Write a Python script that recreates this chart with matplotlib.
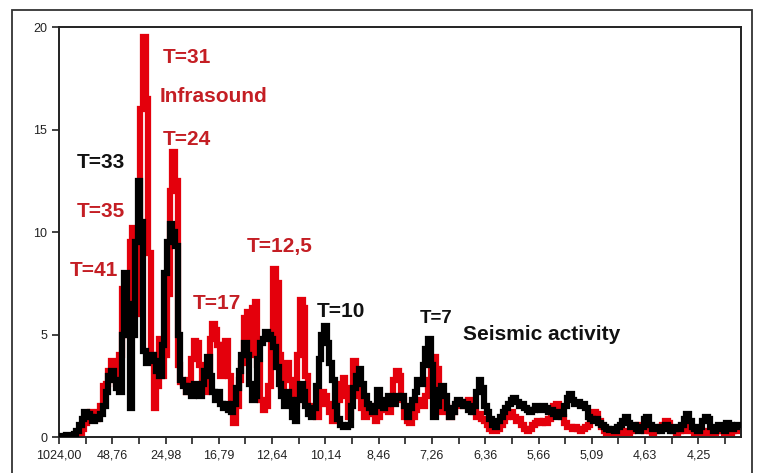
"""
Spectra of infrasound and seismic activity against period T.
"""

import numpy as np
import matplotlib.pyplot as plt
from matplotlib.patches import Rectangle


# ---------------------------------------------------------------------------
# Data (spectral amplitude per harmonic, index i -> period 1024/(i+1))
# ---------------------------------------------------------------------------

seismic = [
    0.0, 0.05, 0.05, 0.1, 0.1, 0.1, 0.15, 0.3, 0.6, 0.9,
    1.2, 1.1, 1.0, 0.8, 1.0, 0.9, 1.1, 1.5, 2.2, 3.0,
    3.2, 2.8, 2.4, 2.2, 5.0, 8.0, 6.5, 1.4, 5.0, 9.5,
    12.5, 10.5, 4.2, 3.6, 3.9, 4.0, 3.7, 3.2, 3.0, 4.5,
    8.0, 9.5, 10.4, 10.0, 9.3, 5.0, 2.8, 2.5, 2.2, 2.5,
    2.0, 2.6, 2.4, 2.0, 2.6, 3.2, 3.9, 3.0, 2.2, 1.8,
    2.2, 1.6, 1.4, 1.6, 1.3, 1.2, 1.6, 2.4, 3.2, 4.0,
    4.6, 4.0, 2.6, 1.8, 2.0, 3.8, 4.6, 4.8, 5.1, 5.0,
    4.8, 4.4, 3.4, 2.6, 2.0, 1.5, 2.2, 1.8, 1.0, 0.8,
    1.8, 2.6, 2.2, 1.5, 1.1, 1.0, 1.4, 2.5, 3.8, 5.0,
    5.4, 4.6, 3.6, 2.8, 1.5, 0.9, 0.6, 0.5, 0.5, 0.6,
    1.5, 2.4, 3.0, 3.3, 2.6, 2.0, 1.6, 1.4, 1.2, 1.5,
    2.3, 1.8, 1.4, 1.6, 2.0, 1.8, 1.6, 2.0, 1.9, 2.0,
    1.5, 1.0, 1.4, 1.8, 2.2, 2.8, 2.6, 3.5, 4.3, 4.8,
    3.5, 1.0, 1.5, 2.3, 2.5, 2.0, 1.4, 1.0, 1.2, 1.6,
    1.8, 1.7, 1.5, 1.6, 1.3, 1.2, 1.5, 2.2, 2.8, 2.4,
    1.5, 1.2, 0.9, 0.6, 0.5, 0.8, 1.0, 1.2, 1.4, 1.6,
    1.8, 1.9, 1.7, 1.5, 1.6, 1.4, 1.3, 1.2, 1.3, 1.5,
    1.4, 1.3, 1.5, 1.4, 1.2, 1.3, 1.1, 1.0, 1.2, 1.1,
    1.5, 1.9, 2.1, 1.8, 1.6, 1.7, 1.5, 1.6, 1.4, 1.0,
    0.9, 0.8, 0.9, 0.7, 0.6, 0.5, 0.4, 0.35, 0.4, 0.3,
    0.5, 0.6, 0.8, 1.0, 0.7, 0.5, 0.6, 0.4, 0.3, 0.5,
    0.9, 1.0, 0.6, 0.4, 0.5, 0.5, 0.3, 0.4, 0.6, 0.5,
    0.3, 0.4, 0.5, 0.4, 0.6, 0.9, 1.1, 0.8, 0.5, 0.4,
    0.3, 0.5, 0.8, 1.0, 0.9, 0.5, 0.3, 0.4, 0.6, 0.5,
    0.3, 0.7, 0.6, 0.4, 0.5, 0.6,
]

infrasound = [
    0.0, 0.0, 0.0, 0.0, 0.0, 0.0, 0.0, 0.1, 0.2, 0.4,
    0.7, 1.1, 1.2, 1.0, 0.9, 1.2, 1.5, 2.5, 2.6, 3.2,
    3.7, 3.0, 2.6, 4.0, 7.2, 5.0, 6.5, 9.5, 10.2, 6.0,
    8.5, 16.0, 19.5, 16.5, 9.0, 4.0, 1.4, 2.5, 4.8, 3.0,
    4.0, 7.0, 12.0, 13.9, 12.5, 3.5, 2.7, 2.6, 2.2, 2.8,
    3.8, 4.7, 4.6, 3.5, 2.5, 2.2, 3.0, 4.8, 5.5, 5.2,
    4.5, 3.0, 4.5, 4.7, 3.0, 1.5, 0.7, 1.5, 2.8, 3.6,
    5.8, 6.1, 4.0, 6.3, 6.6, 3.5, 1.8, 1.3, 1.5, 2.5,
    4.5, 8.2, 7.5, 4.0, 2.5, 3.2, 3.6, 2.8, 1.8, 1.6,
    4.0, 6.7, 6.3, 3.0, 1.5, 1.5, 1.2, 1.0, 1.6, 2.2,
    2.0, 1.6, 1.2, 0.8, 1.0, 1.8, 2.6, 2.9, 2.0, 1.0,
    2.4, 3.7, 3.2, 2.0, 1.4, 1.0, 1.2, 1.5, 1.1, 0.8,
    1.0, 1.3, 1.6, 1.4, 1.2, 1.8, 2.8, 3.2, 3.0, 1.8,
    1.0, 0.8, 0.7, 1.0, 1.3, 1.6, 1.8, 1.5, 2.0, 2.8,
    3.5, 3.9, 3.3, 1.8, 1.2, 1.5, 1.3, 1.0, 1.2, 1.5,
    1.7, 1.6, 1.5, 1.7, 1.8, 1.6, 1.2, 1.0, 1.1, 0.9,
    0.8, 0.6, 0.4, 0.3, 0.3, 0.4, 0.6, 0.8, 1.0, 1.1,
    1.2, 1.0, 0.8, 0.9, 0.6, 0.4, 0.3, 0.4, 0.6, 0.7,
    0.8, 0.7, 0.8, 0.7, 0.9, 1.2, 1.5, 1.6, 1.3, 1.0,
    0.7, 0.5, 0.5, 0.4, 0.5, 0.4, 0.3, 0.4, 0.5, 0.6,
    0.9, 1.2, 1.1, 0.8, 0.5, 0.3, 0.2, 0.2, 0.3, 0.2,
    0.2, 0.3, 0.2, 0.3, 0.2, 0.3, 0.4, 0.5, 0.6, 0.4,
    0.3, 0.5, 0.3, 0.2, 0.3, 0.4, 0.5, 0.6, 0.8, 0.7,
    0.4, 0.3, 0.2, 0.3, 0.4, 0.3, 0.4, 0.5, 0.3, 0.2,
    0.2, 0.3, 0.2, 0.2, 0.3, 0.2, 0.2, 0.3, 0.4, 0.3,
    0.2, 0.3, 0.2, 0.3, 0.4, 0.3,
]

period_labels = [
    "1024,00", "48,76", "24,98", "16,79", "12,64", "10,14", "8,46",
    "7,26", "6,36", "5,66", "5,09", "4,63", "4,25",
]
y_ticks = [0, 5, 10, 15, 20]

# peak annotations: (text, index, value, colour)
peak_notes = [
    ("T=31", 39.0, 18.5, "red"),
    ("Infrasound", 37.9, 16.6, "red"),
    ("T=24", 39.0, 14.5, "red"),
    ("T=33", 6.7, 13.4, "black"),
    ("T=35", 6.7, 11.0, "red"),
    ("T=41", 4.1, 8.1, "red"),
    ("T=12,5", 70.5, 9.3, "red"),
    ("T=17", 50.2, 6.5, "red"),
    ("T=10", 96.7, 6.1, "black"),
    ("T=7", 135.4, 5.8, "black"),
    ("Seismic activity", 151.5, 5.0, "black"),
]

LINE_RED = "#e4000c"
TEXT_RED = "#c41e24"


# ---------------------------------------------------------------------------
# Figure
# ---------------------------------------------------------------------------

plt.rcParams.update({
    "font.family": ["Liberation Sans", "DejaVu Sans"],
    "font.size": 9,
})

fig = plt.figure(figsize=(7.59, 4.73), dpi=100)
ax = fig.add_axes([0.0777, 0.0761, 0.8986, 0.8668])

idx = np.arange(len(seismic))
ax.plot(idx, infrasound, color=LINE_RED, linewidth=4.5,
        drawstyle="steps-mid", solid_joinstyle="miter", zorder=2)
ax.plot(idx, seismic, color="black", linewidth=4.5,
        drawstyle="steps-mid", solid_joinstyle="miter", zorder=3)

for text, xi, yv, col in peak_notes:
    ax.text(xi, yv, text, color=TEXT_RED if col == "red" else "#111111",
            fontsize=15 if text != "T=7" else 13.5, fontweight="bold",
            ha="left", va="center", zorder=5)

ax.set_xlim(0, 256)
ax.set_ylim(0, 20)
ax.set_xticks(np.arange(0, len(period_labels) * 20, 20))
ax.set_xticklabels(period_labels)
ax.set_xticks(np.arange(10, 256, 20), minor=True)
ax.set_yticks(y_ticks)
ax.tick_params(axis="both", which="both", direction="out", length=5,
               width=1.2, colors="#222222", labelsize=9)
ax.tick_params(axis="x", pad=4)

for sp in ax.spines.values():
    sp.set_linewidth(1.4)
    sp.set_color("#222222")

# outer frame of the original picture
fig.add_artist(Rectangle((0.0158, -0.2), 0.975, 1.1789,
                         transform=fig.transFigure, fill=False,
                         edgecolor="#333333", linewidth=1.3))

fig.savefig("out.png", dpi=100)
